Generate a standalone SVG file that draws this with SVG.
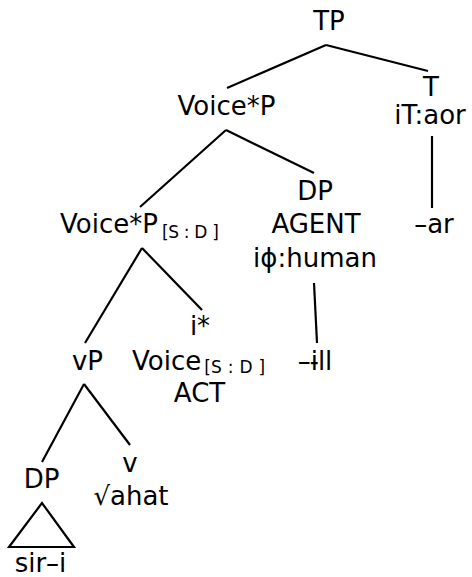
<svg xmlns="http://www.w3.org/2000/svg" width="472" height="577" viewBox="0 0 472 577">
<style>
text{font-family:"DejaVu Sans","Noto Sans",sans-serif;font-size:26px;fill:#000}
.m{text-anchor:middle}
.s{font-size:17px}
.e line,.e polygon{stroke:#000;stroke-width:2.2;fill:none;stroke-linecap:butt}
</style>
<rect width="472" height="577" fill="#fff"/>
<g class="e" id="connectors">
<line x1="326" y1="45" x2="227" y2="88"/>
<line x1="326" y1="45" x2="428" y2="71"/>
<line x1="432" y1="136" x2="432" y2="208"/>
<line x1="226" y1="130" x2="140" y2="207"/>
<line x1="226" y1="130" x2="314" y2="173"/>
<line x1="314" y1="283" x2="317" y2="343"/>
<line x1="142" y1="248" x2="85" y2="343"/>
<line x1="142" y1="248" x2="202" y2="310"/>
<line x1="84" y1="384" x2="42" y2="462"/>
<line x1="84" y1="384" x2="130" y2="445"/>
<polygon points="42,503 9,547 74,547"/>
</g>
<g id="TP"><text class="m" x="329" y="30">TP</text></g>
<g id="T"><text class="m" x="431" y="96">T</text><text class="m" x="430" y="124">iT:aor</text></g>
<g id="ar"><text class="m" x="434" y="233">–ar</text></g>
<g id="VoiceP"><text class="m" x="226.5" y="115">Voice*P</text></g>
<g id="DP-agent"><text class="m" x="315" y="200">DP</text><text class="m" x="316" y="233">AGENT</text><text class="m" x="315" y="267">iϕ:human</text></g>
<g id="ill"><text class="m" x="315" y="370">–ɨll</text></g>
<g id="VoiceP-SD"><text x="60" y="233">Voice*P<tspan class="s" dx="4" dy="5" textLength="57">[S : D ]</tspan></text></g>
<g id="Voice-head"><text class="m" x="200" y="335">i*</text><text x="132" y="370">Voice<tspan class="s" dx="3" dy="3" textLength="61">[S : D ]</tspan></text><text class="m" x="199.5" y="402">ACT</text></g>
<g id="vP"><text class="m" x="87.5" y="370">vP</text></g>
<g id="DP-obj"><text class="m" x="41.5" y="488">DP</text></g>
<g id="v"><text class="m" x="130" y="472">v</text><text class="m" x="131" y="505">√ahat</text></g>
<g id="siri"><text class="m" x="40.5" y="572">sir–i</text></g>
</svg>
